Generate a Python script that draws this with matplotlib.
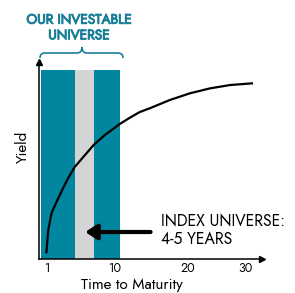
import numpy as np
import matplotlib
matplotlib.use("Agg")
import matplotlib.pyplot as plt
from matplotlib.path import Path
from matplotlib.patches import PathPatch
import matplotlib.patheffects as pe

# ---- data ----
maturity = [0.96, 1.22, 1.66, 2.32, 2.99, 3.78, 4.71, 7.22, 8.68, 10.68, 12.05,
            13.42, 14.79, 17.53, 20.35, 23.86, 27.37, 31.41]
yield_curve = [0.28, 1.47, 2.34, 2.91, 3.45, 4.06, 4.67, 5.79, 6.29, 6.85, 7.17,
               7.46, 7.65, 8.07, 8.41, 8.66, 8.83, 8.92]
band_start = [0.2, 4.7, 7.2]
band_end = [4.7, 7.2, 10.7]
band_height = [9.6, 9.6, 9.6]
band_colors = ["#00869F", "#D3D4D6", "#00869F"]
xticks = [1, 10, 20, 30]
xtick_labels = ["1", "10", "20", "30"]
title_text = "OUR INVESTABLE\nUNIVERSE"
note_text = "INDEX UNIVERSE:\n4-5 YEARS"
arrow_from = (14.9, 1.37)
arrow_to = (6.1, 1.37)

FONT = ["Jost", "DejaVu Sans"]

W, H = 295, 293
fig = plt.figure(figsize=(W / 100, H / 100), dpi=100)
ax = fig.add_axes([39 / W, 34 / H, (262 - 39) / W, (259 - 62) / H])

# non-linear x scale matching the sketch's tick spacing
kx = np.array([-20.0, 0.0, 1.0, 10.0, 20.0, 30.0, 33.0, 60.0])
kp = np.array([-112.0, 39.4, 47.0, 115.0, 188.0, 245.0, 262.0, 415.0])
fwd = lambda x: np.interp(x, kx, kp)
inv = lambda p: np.interp(p, kp, kx)
ax.set_xscale("function", functions=(fwd, inv))
ax.set_xlim(0, 33)
ax.set_ylim(0, 10)

for s, e, h, c in zip(band_start, band_end, band_height, band_colors):
    ax.bar(s, h, width=e - s, align="edge", color=c, linewidth=0, zorder=1)

ax.plot(maturity, yield_curve, color="black", lw=1.6, solid_capstyle="butt",
        solid_joinstyle="round", zorder=3)

ax.annotate("", xy=arrow_to, xytext=arrow_from,
            arrowprops=dict(arrowstyle="-|>,head_length=0.7,head_width=0.45",
                            color="black", lw=3, shrinkA=0, shrinkB=0), zorder=4)

for sp in ["top", "right"]:
    ax.spines[sp].set_visible(False)
for sp in ["left", "bottom"]:
    ax.spines[sp].set_linewidth(1.1)
    ax.spines[sp].set_zorder(5)
ax.set_yticks([])
ax.set_xticks(xticks)
ax.set_xticklabels(xtick_labels, fontsize=9, family=FONT)
ax.tick_params(axis="x", length=0, pad=2)
ax.plot([0], [1], marker="^", color="black", markersize=5, transform=ax.transAxes, clip_on=False)
ax.plot([1], [0], marker=">", color="black", markersize=5, transform=ax.transAxes, clip_on=False)
ax.set_ylabel("Yield", fontsize=11, family=FONT)
ax.yaxis.set_label_coords(-0.076, 0.57)
ax.yaxis.label.set_va("center")
ax.set_xlabel("Time to Maturity", fontsize=10.9, family=FONT)
ax.xaxis.set_label_coords(0.417, -0.165)
ax.xaxis.label.set_va("bottom")

# overlay in pixel coordinates for title and brace
ov = fig.add_axes([0, 0, 1, 1], facecolor="none")
ov.set_xlim(0, W)
ov.set_ylim(H, 0)
ov.axis("off")
teal_t = "#1A7E98"
ov.text(79, 27, title_text, ha="center", va="center", fontsize=9.8, fontweight="bold",
        family=FONT, color=teal_t, linespacing=1.05,
        path_effects=[pe.withStroke(linewidth=0.7, foreground=teal_t)])
verts = [(40, 58), (40, 53), (45, 53), (77, 53), (82, 53), (82, 47),
         (82, 53), (87, 53), (118, 53), (123, 53), (123, 58)]
codes = [Path.MOVETO, Path.CURVE3, Path.CURVE3, Path.LINETO, Path.CURVE3, Path.CURVE3,
         Path.CURVE3, Path.CURVE3, Path.LINETO, Path.CURVE3, Path.CURVE3]
ov.add_patch(PathPatch(Path(verts, codes), facecolor="none", edgecolor=teal_t, lw=1.2))
ov.text(161, 231, note_text, ha="left", va="center", fontsize=11.3, family=FONT,
        color="black", linespacing=1.02)

fig.savefig("out.png", dpi=100)
